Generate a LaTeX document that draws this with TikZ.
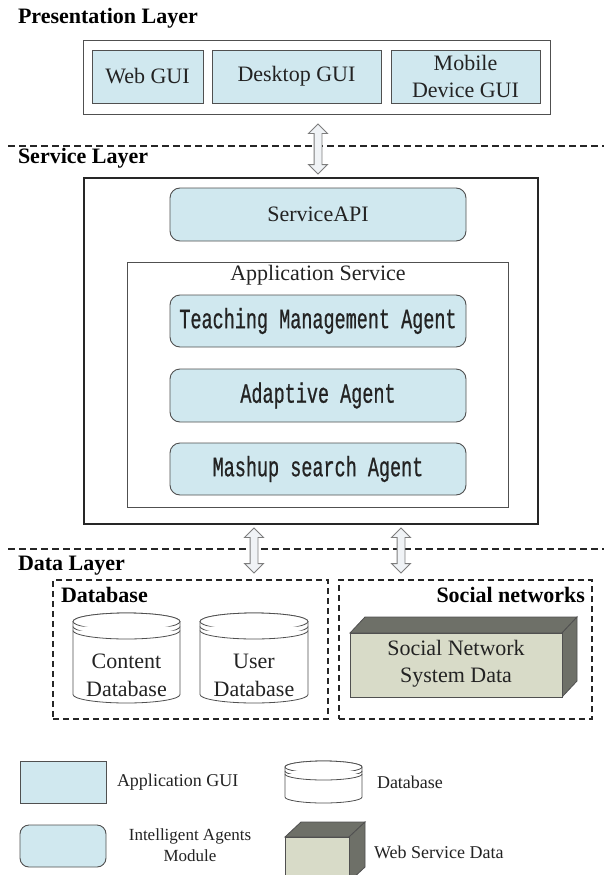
\documentclass[tikz,border=0pt]{standalone}
\usepackage{fontspec}
\setmainfont{Liberation Serif}
\newfontfamily\agentfont[FakeStretch=0.66,FakeBold=0.6]{Liberation Mono}
\usetikzlibrary{shapes.arrows}

\definecolor{guiblue}{RGB}{208,232,239}
\definecolor{edgec}{RGB}{80,80,80}
\definecolor{inkc}{RGB}{35,35,35}
\definecolor{arrowc}{RGB}{125,125,125}
\definecolor{arrowfill}{RGB}{240,243,246}
\definecolor{facec}{RGB}{216,219,200}
\definecolor{darkc}{RGB}{110,112,104}

% database drum: centre x, top y, bottom y, half width, cap radius, ring gaps
\newcommand\dbdrum[7]{%
  \pgfmathsetmacro\drumtc{#2+#5}%
  \pgfmathsetmacro\drumbc{#3-#5}%
  \filldraw[drum] (#1-#4,\drumtc) -- (#1-#4,\drumbc)
    arc[start angle=180,end angle=360,x radius=#4pt,y radius=#5pt]
    -- (#1+#4,\drumtc)
    arc[start angle=0,end angle=180,x radius=#4pt,y radius=#5pt] -- cycle;
  \draw[drum] (#1,\drumtc) ellipse[x radius=#4pt,y radius=#5pt];
  \draw[drum] (#1-#4,\drumtc+#6)
    arc[start angle=180,end angle=360,x radius=#4pt,y radius=#5pt];
  \draw[drum] (#1-#4,\drumtc+#7)
    arc[start angle=180,end angle=360,x radius=#4pt,y radius=#5pt];
}

% shaded block: front left x, front top y, front right x, front bottom y, depth x, depth y
\newcommand\datablock[6]{%
  \filldraw[blockdark] (#1,#2) -- (#1+#5,#2-#6) -- (#3+#5,#2-#6) -- (#3,#2) -- cycle;
  \filldraw[blockdark] (#3,#2) -- (#3+#5,#2-#6) -- (#3+#5,#4-#6) -- (#3,#4) -- cycle;
  \filldraw[blockface] (#1,#2) rectangle (#3,#4);
}

\begin{document}
\begin{tikzpicture}[x=1pt,y=-1pt,
  every node/.style={inner sep=0pt,outer sep=0pt},
  txt/.style={font=\fontsize{22}{26}\selectfont,text=inkc,align=center},
  legtxt/.style={font=\fontsize{18}{21}\selectfont,text=inkc,align=center},
  heading/.style={font=\fontsize{22}{26}\selectfont\bfseries,text=black},
  guibox/.style={txt,draw=edgec,line width=0.9pt,fill=guiblue},
  agentbox/.style={guibox,rounded corners=10pt},
  agenttxt/.style={font=\agentfont\fontsize{28}{30}\selectfont},
  framebox/.style={draw=edgec,line width=0.9pt},
  mainbox/.style={draw=black!85,line width=1.5pt},
  groupbox/.style={draw=black!85,line width=1.3pt,dash pattern=on 6pt off 4pt},
  layerline/.style={draw=black!85,line width=1.2pt,dash pattern=on 7pt off 4pt},
  drum/.style={draw=edgec,line width=0.8pt,fill=white},
  blockdark/.style={draw=edgec,line width=0.8pt,fill=darkc},
  blockface/.style={draw=edgec,line width=0.8pt,fill=facec},
  dblarrow/.style={double arrow,rotate=90,draw=arrowc,fill=arrowfill,line width=0.9pt,
    minimum width=18pt,inner sep=3.5pt,double arrow head extend=5.5pt,
    double arrow tip angle=90}
]
\clip (0,0) rectangle (604,875);
\fill[white] (0,0) rectangle (604,875);

% ---------------- presentation layer ----------------
\node[heading,anchor=west] (plabel) at (18,18) {Presentation Layer};
\node[framebox,minimum width=467pt,minimum height=74pt] (pbox) at (316.5,77) {};
\node[guibox,minimum width=111pt,minimum height=53pt] (web) at (147.5,76.5) {Web GUI};
\node[guibox,minimum width=169pt,minimum height=53pt] (desk) at (296.5,76.5) {Desktop GUI};
\node[guibox,minimum width=149pt,minimum height=53pt,
      font=\fontsize{22}{27}\selectfont] (mob) at (465.5,76.5) {Mobile\\Device GUI};

\draw[layerline] (8,146) -- (604,146);
\node[dblarrow,minimum height=50pt] (arrA) at (318,149) {};

% ---------------- service layer ----------------
\node[heading,anchor=west] (slabel) at (18,158) {Service Layer};
\node[mainbox,minimum width=454pt,minimum height=346pt] (sbox) at (311,351) {};
\node[agentbox,minimum width=296pt,minimum height=53pt] (api) at (318,214.5) {ServiceAPI};
\node[framebox,minimum width=381pt,minimum height=245pt] (appbox) at (317.5,384.5) {};
\node[txt,anchor=base] (applabel) at (318,280) {Application Service};
\node[agentbox,agenttxt,minimum width=296pt,minimum height=52pt] (teach) at (318,321)
  {Teaching Management Agent};
\node[agentbox,agenttxt,minimum width=296pt,minimum height=53pt] (adapt) at (318,395.5)
  {Adaptive Agent};
\node[agentbox,agenttxt,minimum width=296pt,minimum height=52pt] (mash) at (318,469)
  {Mashup search Agent};

% ---------------- data layer ----------------
\draw[layerline] (8,549) -- (604,549);
\node[dblarrow,minimum height=45pt] (arrB) at (254,550.5) {};
\node[dblarrow,minimum height=45pt] (arrC) at (401,550.5) {};
\node[heading,anchor=west] (dlabel) at (18,566) {Data Layer};

\node[groupbox,minimum width=275pt,minimum height=139pt] (dbgroup) at (190.5,649.5) {};
\node[groupbox,minimum width=253pt,minimum height=139pt] (sngroup) at (465.5,649.5) {};
\node[heading,anchor=west] (dbhead) at (61,595) {Database};
\node[heading,anchor=east] (snhead) at (585,595) {Social networks};

\dbdrum{126.5}{613}{703}{53.5}{8.5}{5}{9}
\dbdrum{254}{613}{703}{54}{8.5}{5}{9}
\node[txt,font=\fontsize{22}{28}\selectfont] (cdb) at (126.5,675) {Content\\Database};
\node[txt,font=\fontsize{22}{28}\selectfont] (udb) at (254,675) {User\\Database};

\datablock{350}{633}{562}{697}{15}{16}
\node[txt,font=\fontsize{22}{27}\selectfont] (sndata) at (456,664) {Social Network\\System Data};

% ---------------- legend ----------------
\node[guibox,minimum width=86pt,minimum height=42pt] (lgui) at (63,782) {};
\node[legtxt,anchor=west] (lguit) at (117,782) {Application GUI};
\dbdrum{323.5}{761}{803}{38.5}{6}{4}{7}
\node[legtxt,anchor=west] (ldbt) at (377,782) {Database};
\node[agentbox,minimum width=86pt,minimum height=42pt,rounded corners=9pt] (lagent) at (63,846) {};
\node[legtxt,font=\fontsize{17}{21}\selectfont] (lagentt) at (190,845) {Intelligent Agents\\Module};
\datablock{285}{837}{349}{882}{16}{15}
\node[legtxt,anchor=west] (lwst) at (374,852) {Web Service Data};
\end{tikzpicture}
\end{document}
